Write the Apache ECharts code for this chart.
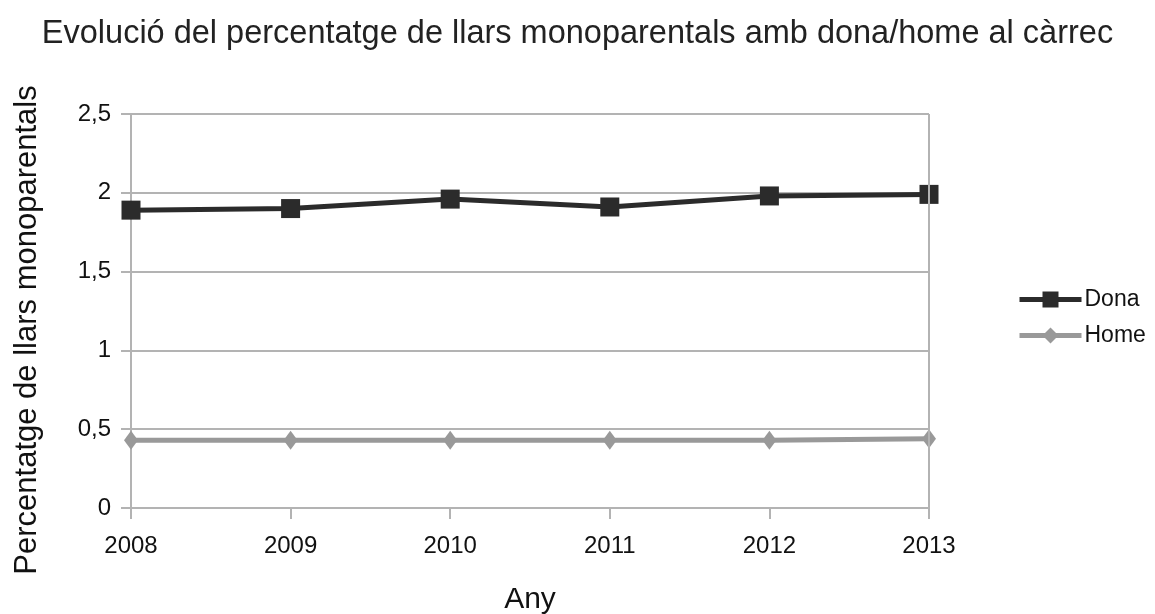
<!DOCTYPE html>
<html>
<head>
<meta charset="utf-8">
<script src="https://cdn.jsdelivr.net/npm/echarts@6/dist/echarts.min.js"></script>
<style>
  html, body { margin: 0; padding: 0; background: #fff; }
  #chart { width: 1155px; height: 614px; }
</style>
</head>
<body>
<div id="chart"></div>
<script>
// Dades llegides del gràfic
const anys = ['2008', '2009', '2010', '2011', '2012', '2013'];
const dona = [1.89, 1.90, 1.96, 1.91, 1.98, 1.99];
const home = [0.43, 0.43, 0.43, 0.43, 0.43, 0.44];

const FONT = '"Liberation Sans", Arial, sans-serif';
const comma = v => String(v).replace('.', ',');

const chart = echarts.init(document.getElementById('chart'));

chart.setOption({
    backgroundColor: '#fff',
    animation: false,
    title: {
        text: 'Evolució del percentatge de llars monoparentals amb dona/home al càrrec',
        left: 'center',
        top: 13,
        textStyle: { fontFamily: FONT, fontSize: 32.5, fontWeight: 'normal', color: '#222' }
    },
    legend: {
        orient: 'vertical',
        left: 1012,
        top: 283,
        itemWidth: 62,
        itemHeight: 20,
        itemGap: 13,
        lineStyle: { width: 5 },
        textStyle: { fontFamily: FONT, fontSize: 23, color: '#111', padding: [0, 0, 0, -2] },
        data: ['Dona', 'Home']
    },
    grid: { left: 131, right: 226, top: 114, bottom: 106, outerBoundsMode: 'none' },
    xAxis: {
        type: 'category',
        data: anys,
        boundaryGap: false,
        name: 'Any',
        nameLocation: 'middle',
        nameGap: 77,
        nameTextStyle: { fontFamily: FONT, fontSize: 30, color: '#111' },
        axisLine: { lineStyle: { color: '#b3b3b3', width: 2 } },
        axisTick: { length: 11, lineStyle: { color: '#b3b3b3', width: 2 } },
        axisLabel: { fontFamily: FONT, fontSize: 24, color: '#111', margin: 26 },
        splitLine: { show: false }
    },
    yAxis: {
        type: 'value',
        min: 0,
        max: 2.5,
        interval: 0.5,
        name: 'Percentatge de llars monoparentals',
        nameLocation: 'middle',
        nameGap: 88,
        nameTextStyle: { fontFamily: FONT, fontSize: 31, color: '#111', padding: [0, 38, 0, 0] },
        axisLine: { show: true, lineStyle: { color: '#b3b3b3', width: 2 } },
        axisTick: { show: true, length: 10, lineStyle: { color: '#b3b3b3', width: 2 } },
        axisLabel: { fontFamily: FONT, fontSize: 24, color: '#111', margin: 20, formatter: comma },
        splitLine: { lineStyle: { color: '#b3b3b3', width: 2 } }
    },
    series: [
        {
            name: 'Dona',
            type: 'line',
            data: dona,
            symbol: 'rect',
            symbolSize: 19,
            color: '#2b2b2b',
            lineStyle: { width: 5, color: '#2b2b2b' },
            itemStyle: { color: '#2b2b2b' },
            z: 3
        },
        {
            name: 'Home',
            type: 'line',
            data: home,
            symbol: 'diamond',
            symbolSize: [14, 19],
            color: '#999999',
            lineStyle: { width: 5, color: '#999999' },
            itemStyle: { color: '#999999' },
            markLine: {
                silent: true,
                symbol: 'none',
                label: { show: false },
                lineStyle: { color: '#b3b3b3', width: 2, type: 'solid' },
                data: [{ xAxis: '2013' }]
            },
            z: 2
        }
    ]
});
</script>
</body>
</html>
